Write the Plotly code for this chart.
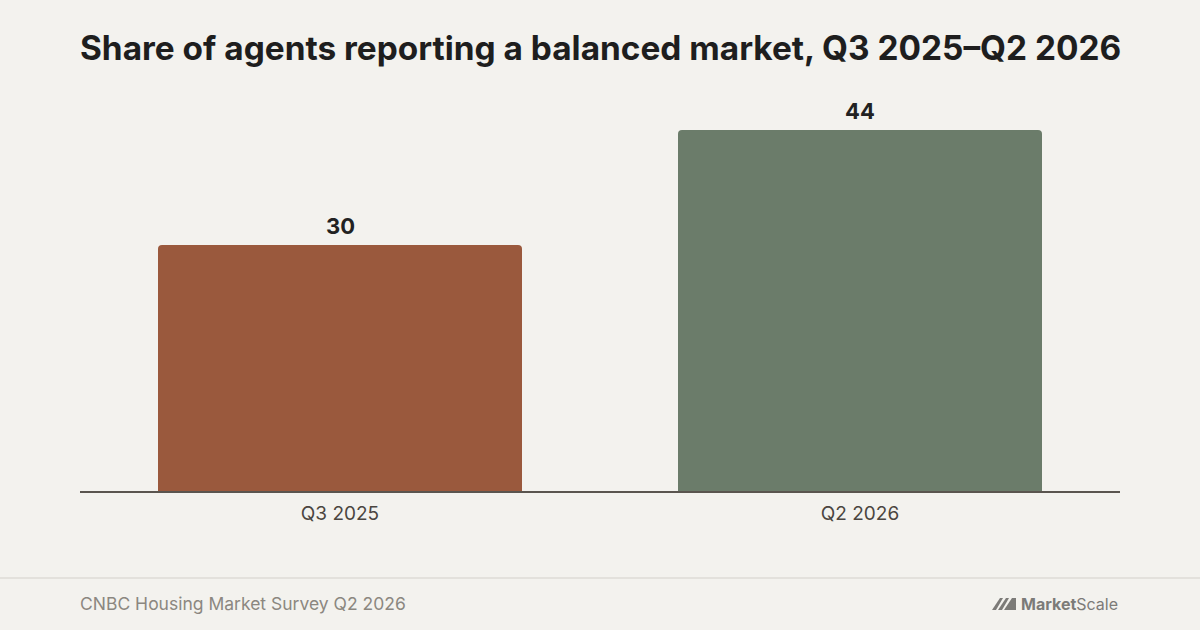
import plotly.graph_objects as go

periods = ["Q3 2025", "Q2 2026"]
shares = [30, 44]
bar_colors = ["#9A593D", "#6B7C6A"]

TITLE = "Share of agents reporting a balanced market, Q3 2025\u2013Q2 2026"
SOURCE = "CNBC Housing Market Survey Q2 2026"

W, H = 1200, 630
L, R, T, B = 80, 80, 94, 139
BG = "#F3F2EE"
LOGO_GREY = "#7C7B78"


def px_x(x):
    return (x - L) / (W - L - R)


def px_y(y):
    return (H - B - y) / (H - T - B)


fig = go.Figure()
fig.add_trace(
    go.Bar(
        x=periods,
        y=shares,
        marker={"color": bar_colors, "line": {"width": 0}},
        hoverinfo="skip",
    )
)

# value labels above each bar
for period, value in zip(periods, shares):
    fig.add_annotation(
        x=period, y=value, text=str(value), showarrow=False,
        yanchor="bottom", yshift=4,
        font={"family": "Inter", "size": 22, "color": "#222222", "weight": 700},
    )

fig.update_layout(
    width=W,
    height=H,
    paper_bgcolor=BG,
    plot_bgcolor=BG,
    margin={"l": L, "r": R, "t": T, "b": B},
    bargap=0.3,
    barcornerradius=4,
    showlegend=False,
    font={"family": "Inter", "color": "#4A4540"},
    title={
        "text": TITLE,
        "x": 80 / W,
        "xanchor": "left",
        "y": 1 - 48 / H,
        "yanchor": "middle",
        "font": {"family": "Inter", "size": 33.4, "color": "#1E1E1E", "weight": 700},
    },
    xaxis={
        "showgrid": False,
        "showline": True,
        "linecolor": "#5A554F",
        "linewidth": 2,
        "ticks": "",
        "tickfont": {"size": 19, "color": "#4A4540"},
        "ticklabelstandoff": 4,
    },
    yaxis={
        "range": [0, 48.4],
        "visible": False,
        "showgrid": False,
        "zeroline": False,
    },
)

# footer divider
fig.add_shape(
    type="line", xref="paper", yref="paper",
    x0=px_x(0), x1=px_x(W), y0=px_y(578), y1=px_y(578),
    line={"color": "#E3E1DC", "width": 2},
)

fig.add_annotation(
    text=SOURCE, xref="paper", yref="paper",
    x=px_x(80), y=px_y(603), xanchor="left", yanchor="middle", xshift=-2,
    showarrow=False, font={"size": 17.5, "color": "#8B8780"},
)

# MarketScale logo: wordmark plus slanted mark
fig.add_annotation(
    text="<b>Market</b>Scale", xref="paper", yref="paper",
    x=px_x(1120), y=px_y(604), xanchor="right", yanchor="middle",
    showarrow=False, font={"size": 16, "color": LOGO_GREY},
)
for x0 in (992, 998):
    path = "M {0} {1} L {2} {3} L {4} {3} L {5} {1} Z".format(
        px_x(x0), px_y(610), px_x(x0 + 8), px_y(598), px_x(x0 + 11), px_x(x0 + 4)
    )
    fig.add_shape(type="path", xref="paper", yref="paper", path=path,
                  fillcolor=LOGO_GREY, line={"width": 0})
path = "M {0} {1} L {2} {3} L {4} {3} L {4} {1} L {5} {1} Z".format(
    px_x(1004), px_y(610), px_x(1012), px_y(598), px_x(1016), px_x(1008)
)
fig.add_shape(type="path", xref="paper", yref="paper", path=path,
              fillcolor=LOGO_GREY, line={"width": 0})

fig.write_html(
    "out.html",
    config={"displayModeBar": False},
    post_script="document.body.style.margin='0';document.body.style.overflow='hidden';",
)
